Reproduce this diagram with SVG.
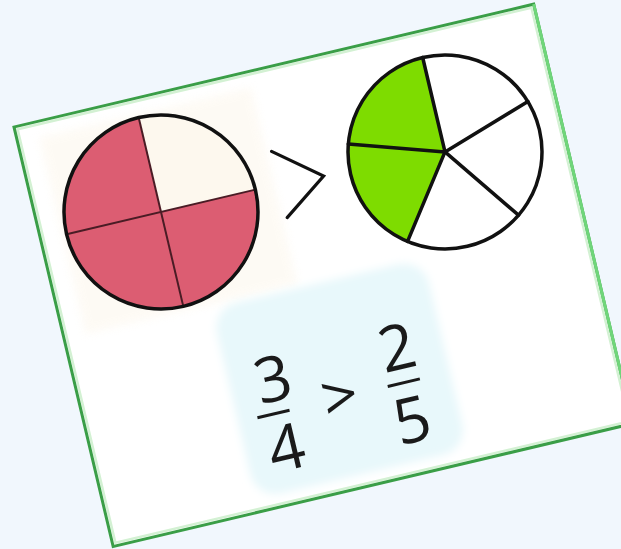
<svg xmlns="http://www.w3.org/2000/svg" width="621" height="549" viewBox="0 0 621 549">
  <defs>
    <filter id="soft" x="-20%" y="-20%" width="140%" height="140%">
      <feGaussianBlur stdDeviation="4"/>
    </filter>
  </defs>
  <style>
    .outline { fill: none; stroke: #111; stroke-width: 3.5; }
    .spoke { stroke: #111; stroke-width: 3.5; stroke-linecap: round; }
    .divider { stroke: #4a1c25; stroke-width: 2; }
    .digit { font-family: "Open Sans", "Liberation Sans", sans-serif; font-size: 63px; fill: #1a1a1a; text-anchor: middle; }
    .bar { stroke: #1a1a1a; stroke-width: 3; }
  </style>
  <rect width="621" height="549" fill="#f1f7fd"/>
  <g id="card" transform="translate(14,127) rotate(-13.3)">
    <rect id="card-bg" x="0" y="0" width="534" height="431" fill="#ffffff"/>
    <rect x="22" y="16" width="218" height="202" fill="#fdf8ee" filter="url(#soft)" opacity="0.6"/>
    <rect x="150" y="222" width="218" height="196" rx="26" fill="#e8f8fb" filter="url(#soft)"/>
    <rect x="3" y="3" width="528" height="425" fill="none" stroke="#d3f1d3" stroke-width="2.5"/>
    <rect x="0" y="0" width="534" height="431" fill="none" stroke="#3a9e47" stroke-width="3"/>
    <line x1="534" y1="0" x2="534" y2="431" stroke="#70d67a" stroke-width="3"/>

    <g id="quarters">
      <path d="M123.5,116.5 L123.5,19.5 A97,97 0 1 0 220.5,116.5 Z" fill="#dc5d72"/>
      <path d="M123.5,116.5 L123.5,19.5 A97,97 0 0 1 220.5,116.5 Z" fill="#fdf8ee"/>
      <line class="divider" x1="26.5" y1="116.5" x2="220.5" y2="116.5"/>
      <line class="divider" x1="123.5" y1="19.5" x2="123.5" y2="213.5"/>
      <circle class="outline" cx="123.5" cy="116.5" r="97"/>
    </g>

    <g id="gt-symbol">
      <polyline points="245,83 290,119 245,151" fill="none" stroke="#111" stroke-width="3.2" stroke-linecap="round" stroke-linejoin="miter"/>
    </g>

    <g id="fifths">
      <path d="M413.7,123.4 L356.7,201.9 A97,97 0 0 1 413.7,26.4 Z" fill="#7edc00"/>
      <line class="spoke" x1="413.7" y1="123.4" x2="413.7" y2="26.4"/>
      <line class="spoke" x1="413.7" y1="123.4" x2="506.0" y2="93.4"/>
      <line class="spoke" x1="413.7" y1="123.4" x2="470.7" y2="201.9"/>
      <line class="spoke" x1="413.7" y1="123.4" x2="356.7" y2="201.9"/>
      <line class="spoke" x1="413.7" y1="123.4" x2="321.4" y2="93.4"/>
      <circle class="outline" cx="413.7" cy="123.4" r="97"/>
    </g>

    <g id="equation">
      <text class="digit" x="194" y="327">3</text>
      <line class="bar" x1="170" y1="339" x2="203" y2="339"/>
      <text class="digit" x="191" y="397">4</text>
      <text class="digit" x="255" y="359" font-size="56">&gt;</text>
      <text class="digit" x="322" y="325">2</text>
      <line class="bar" x1="304" y1="338.5" x2="337" y2="338.5"/>
      <text class="digit" x="320" y="399">5</text>
    </g>
  </g>
</svg>
